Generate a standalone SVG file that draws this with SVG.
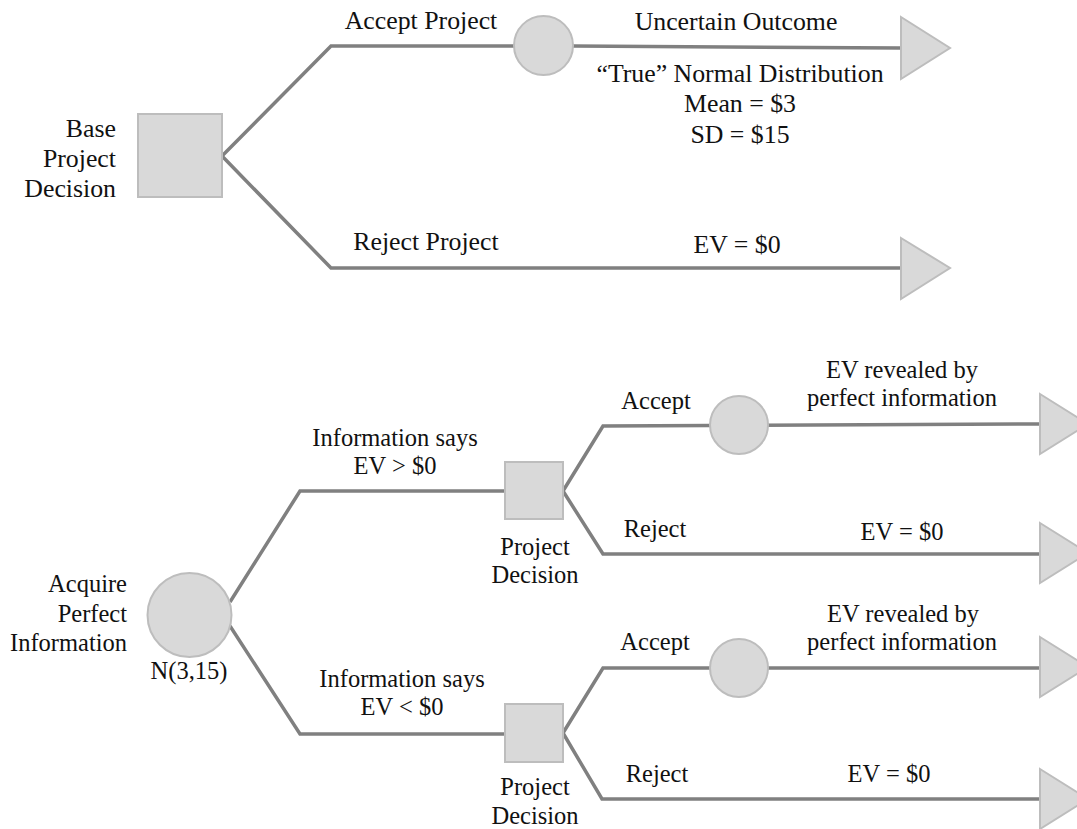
<svg xmlns="http://www.w3.org/2000/svg" width="1077" height="829" viewBox="0 0 1077 829" font-family="'Liberation Serif', 'DejaVu Serif', serif">
<style>
.bg{fill:#ffffff}
.node{fill:#d9d9d9;stroke:#bdbdbd;stroke-width:2}
.conn{fill:none;stroke:#808080;stroke-width:3.5;stroke-linejoin:miter}
.t{font-family:'Liberation Serif','DejaVu Serif',serif;font-size:24.5px;fill:#111111}
.big{font-size:25.8px}
.m{text-anchor:middle}
.e{text-anchor:end}
</style>
<rect class="bg" x="0" y="0" width="1077" height="829"/>
<g id="connectors">
<polyline class="conn" points="222,156 331,46 573,46 901,48"/>
<polyline class="conn" points="222,156 331,268 901,268"/>
<polyline class="conn" points="230,602 300,491 505,491"/>
<polyline class="conn" points="230,626 300,734 505,734"/>
<polyline class="conn" points="563,491 603,426 1040,424"/>
<polyline class="conn" points="563,491 603,554 1040,554"/>
<polyline class="conn" points="563,733 603,668 1040,668"/>
<polyline class="conn" points="563,733 602,799 1040,799"/>
</g>
<g id="base-decision">
<rect class="node" x="138" y="114" width="84" height="83"/>
<text class="t big e" x="116" y="137">Base</text>
<text class="t big e" x="116" y="167">Project</text>
<text class="t big e" x="116" y="197">Decision</text>
</g>
<g id="uncertain-chance">
<circle class="node" cx="543.5" cy="45.5" r="29.5"/>
</g>
<g id="accept-end">
<polygon class="node" points="901,17 950,48 901,79"/>
</g>
<g id="reject-end">
<polygon class="node" points="901,238 950,268 901,299"/>
</g>
<g id="labels-top">
<text class="t big m" x="421" y="29">Accept Project</text>
<text class="t big m" x="736" y="30">Uncertain Outcome</text>
<text class="t big m" x="740" y="82">“True” Normal Distribution</text>
<text class="t big m" x="740" y="112">Mean = $3</text>
<text class="t big m" x="740" y="143">SD = $15</text>
<text class="t big m" x="426" y="250">Reject Project</text>
<text class="t big m" x="737" y="253">EV = $0</text>
</g>
<g id="acquire-info">
<circle class="node" cx="189.5" cy="615" r="42"/>
<text class="t e" x="127" y="592">Acquire</text>
<text class="t e" x="127" y="622">Perfect</text>
<text class="t e" x="127" y="651">Information</text>
<text class="t m" x="189" y="679">N(3,15)</text>
</g>
<g id="decision-upper">
<rect class="node" x="505" y="462" width="58" height="57"/>
<text class="t m" x="535" y="555">Project</text>
<text class="t m" x="535" y="583">Decision</text>
</g>
<g id="decision-lower">
<rect class="node" x="505" y="704" width="58" height="58"/>
<text class="t m" x="535" y="795">Project</text>
<text class="t m" x="535" y="824">Decision</text>
</g>
<g id="chance-upper">
<circle class="node" cx="739" cy="425" r="29"/>
</g>
<g id="chance-lower">
<circle class="node" cx="739" cy="668" r="29"/>
</g>
<g id="end-1"><polygon class="node" points="1040,394 1088,424 1040,454"/></g>
<g id="end-2"><polygon class="node" points="1040,523 1088,553 1040,583"/></g>
<g id="end-3"><polygon class="node" points="1040,637 1088,667 1040,697"/></g>
<g id="end-4"><polygon class="node" points="1040,769 1088,799 1040,829"/></g>
<g id="labels-bottom">
<text class="t m" x="395" y="446">Information says</text>
<text class="t m" x="395" y="474">EV &gt; $0</text>
<text class="t m" x="402" y="687">Information says</text>
<text class="t m" x="402" y="715">EV &lt; $0</text>
<text class="t m" x="656" y="409">Accept</text>
<text class="t m" x="902" y="378">EV revealed by</text>
<text class="t m" x="902" y="406">perfect information</text>
<text class="t m" x="655" y="537">Reject</text>
<text class="t m" x="902" y="540">EV = $0</text>
<text class="t m" x="655" y="650">Accept</text>
<text class="t m" x="903" y="622">EV revealed by</text>
<text class="t m" x="902" y="650">perfect information</text>
<text class="t m" x="657" y="782">Reject</text>
<text class="t m" x="889" y="782">EV = $0</text>
</g>
</svg>
